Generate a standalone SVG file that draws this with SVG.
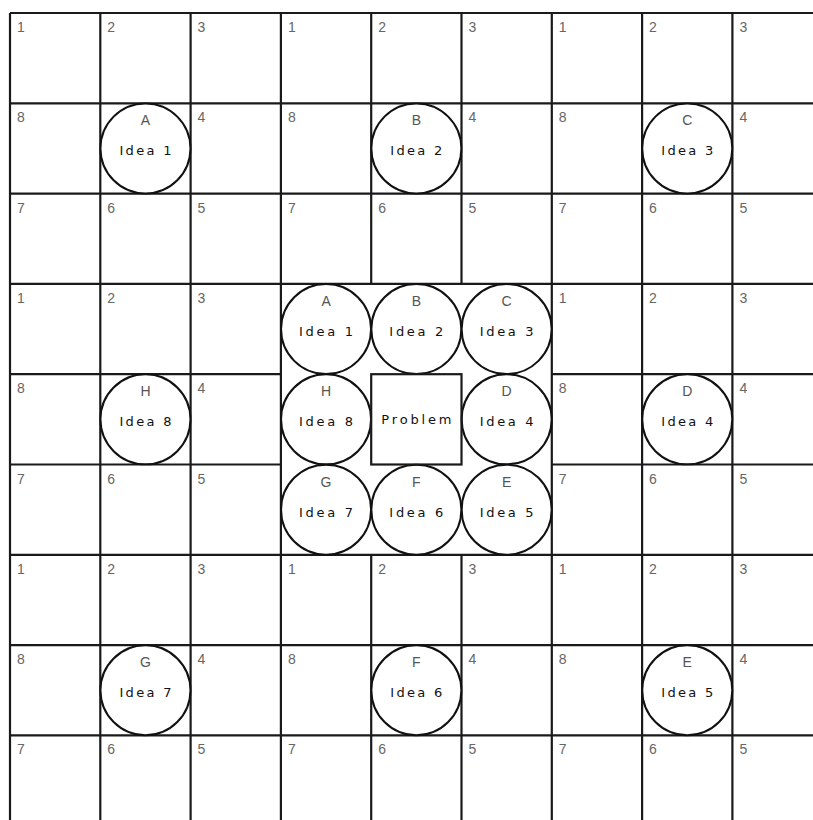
<svg xmlns="http://www.w3.org/2000/svg" width="813" height="820" viewBox="0 0 813 820">
<style>
.g{stroke:#1a1a1a;stroke-width:2.2;fill:none}
.c{stroke:#111;stroke-width:2;fill:#fff}
.n{font-family:"Liberation Sans",Arial,sans-serif;font-size:14px;fill:#666}
.l{font-family:"Liberation Sans",Arial,sans-serif;font-size:14px;fill:#555;text-anchor:middle}
.i{font-family:"DejaVu Sans",sans-serif;font-size:13px;fill:#111;text-anchor:middle}
</style>
<rect width="813" height="820" fill="#fff"/>
<g id="grid" class="g">
<path d="M10 13H813M10 103.3H813M10 193.6H813M10 283.9H813M10 374.2H280.9M551.8 374.2H813M10 464.5H280.9M551.8 464.5H813M10 554.8H813M10 645.1H813M10 735.4H813"/>
<path d="M10 13V820M100.3 13V820M190.6 13V820M280.9 13V820M371.2 13V283.9M371.2 554.8V820M461.5 13V283.9M461.5 554.8V820M551.8 13V820M642.1 13V820M732.4 13V820"/>
</g>
<g id="numbers" class="n">
<text x="17" y="32">1</text><text x="107.3" y="32">2</text><text x="197.6" y="32">3</text>
<text x="287.9" y="32">1</text><text x="378.2" y="32">2</text><text x="468.5" y="32">3</text>
<text x="558.8" y="32">1</text><text x="649.1" y="32">2</text><text x="739.4" y="32">3</text>
<text x="17" y="122.3">8</text><text x="197.6" y="122.3">4</text>
<text x="287.9" y="122.3">8</text><text x="468.5" y="122.3">4</text>
<text x="558.8" y="122.3">8</text><text x="739.4" y="122.3">4</text>
<text x="17" y="212.6">7</text><text x="107.3" y="212.6">6</text><text x="197.6" y="212.6">5</text>
<text x="287.9" y="212.6">7</text><text x="378.2" y="212.6">6</text><text x="468.5" y="212.6">5</text>
<text x="558.8" y="212.6">7</text><text x="649.1" y="212.6">6</text><text x="739.4" y="212.6">5</text>
<text x="17" y="302.9">1</text><text x="107.3" y="302.9">2</text><text x="197.6" y="302.9">3</text>
<text x="558.8" y="302.9">1</text><text x="649.1" y="302.9">2</text><text x="739.4" y="302.9">3</text>
<text x="17" y="393.2">8</text><text x="197.6" y="393.2">4</text>
<text x="558.8" y="393.2">8</text><text x="739.4" y="393.2">4</text>
<text x="17" y="483.5">7</text><text x="107.3" y="483.5">6</text><text x="197.6" y="483.5">5</text>
<text x="558.8" y="483.5">7</text><text x="649.1" y="483.5">6</text><text x="739.4" y="483.5">5</text>
<text x="17" y="573.8">1</text><text x="107.3" y="573.8">2</text><text x="197.6" y="573.8">3</text>
<text x="287.9" y="573.8">1</text><text x="378.2" y="573.8">2</text><text x="468.5" y="573.8">3</text>
<text x="558.8" y="573.8">1</text><text x="649.1" y="573.8">2</text><text x="739.4" y="573.8">3</text>
<text x="17" y="664.1">8</text><text x="197.6" y="664.1">4</text>
<text x="287.9" y="664.1">8</text><text x="468.5" y="664.1">4</text>
<text x="558.8" y="664.1">8</text><text x="739.4" y="664.1">4</text>
<text x="17" y="754.4">7</text><text x="107.3" y="754.4">6</text><text x="197.6" y="754.4">5</text>
<text x="287.9" y="754.4">7</text><text x="378.2" y="754.4">6</text><text x="468.5" y="754.4">5</text>
<text x="558.8" y="754.4">7</text><text x="649.1" y="754.4">6</text><text x="739.4" y="754.4">5</text>
</g>
<g id="outerA"><circle class="c" cx="145.45" cy="148.45" r="45"/><text class="l" x="145.45" y="125.3">A</text><text class="i" x="145.45" y="155.3" textLength="52" lengthAdjust="spacing">Idea 1</text></g>
<g id="outerB"><circle class="c" cx="416.35" cy="148.45" r="45"/><text class="l" x="416.35" y="125.3">B</text><text class="i" x="416.35" y="155.3" textLength="52" lengthAdjust="spacing">Idea 2</text></g>
<g id="outerC"><circle class="c" cx="687.25" cy="148.45" r="45"/><text class="l" x="687.25" y="125.3">C</text><text class="i" x="687.25" y="155.3" textLength="52" lengthAdjust="spacing">Idea 3</text></g>
<g id="outerD"><circle class="c" cx="687.25" cy="419.35" r="45"/><text class="l" x="687.25" y="396.2">D</text><text class="i" x="687.25" y="426.2" textLength="52" lengthAdjust="spacing">Idea 4</text></g>
<g id="outerE"><circle class="c" cx="687.25" cy="690.25" r="45"/><text class="l" x="687.25" y="667.1">E</text><text class="i" x="687.25" y="697.1" textLength="52" lengthAdjust="spacing">Idea 5</text></g>
<g id="outerF"><circle class="c" cx="416.35" cy="690.25" r="45"/><text class="l" x="416.35" y="667.1">F</text><text class="i" x="416.35" y="697.1" textLength="52" lengthAdjust="spacing">Idea 6</text></g>
<g id="outerG"><circle class="c" cx="145.45" cy="690.25" r="45"/><text class="l" x="145.45" y="667.1">G</text><text class="i" x="145.45" y="697.1" textLength="52" lengthAdjust="spacing">Idea 7</text></g>
<g id="outerH"><circle class="c" cx="145.45" cy="419.35" r="45"/><text class="l" x="145.45" y="396.2">H</text><text class="i" x="145.45" y="426.2" textLength="52" lengthAdjust="spacing">Idea 8</text></g>
<g id="centerA"><circle class="c" cx="326.05" cy="329.05" r="45"/><text class="l" x="326.05" y="305.9">A</text><text class="i" x="326.05" y="335.9" textLength="54" lengthAdjust="spacing">Idea 1</text></g>
<g id="centerB"><circle class="c" cx="416.35" cy="329.05" r="45"/><text class="l" x="416.35" y="305.9">B</text><text class="i" x="416.35" y="335.9" textLength="54" lengthAdjust="spacing">Idea 2</text></g>
<g id="centerC"><circle class="c" cx="506.65" cy="329.05" r="45"/><text class="l" x="506.65" y="305.9">C</text><text class="i" x="506.65" y="335.9" textLength="54" lengthAdjust="spacing">Idea 3</text></g>
<g id="centerD"><circle class="c" cx="506.65" cy="419.35" r="45"/><text class="l" x="506.65" y="396.2">D</text><text class="i" x="506.65" y="426.2" textLength="54" lengthAdjust="spacing">Idea 4</text></g>
<g id="centerE"><circle class="c" cx="506.65" cy="509.65" r="45"/><text class="l" x="506.65" y="486.5">E</text><text class="i" x="506.65" y="516.5" textLength="54" lengthAdjust="spacing">Idea 5</text></g>
<g id="centerF"><circle class="c" cx="416.35" cy="509.65" r="45"/><text class="l" x="416.35" y="486.5">F</text><text class="i" x="416.35" y="516.5" textLength="54" lengthAdjust="spacing">Idea 6</text></g>
<g id="centerG"><circle class="c" cx="326.05" cy="509.65" r="45"/><text class="l" x="326.05" y="486.5">G</text><text class="i" x="326.05" y="516.5" textLength="54" lengthAdjust="spacing">Idea 7</text></g>
<g id="centerH"><circle class="c" cx="326.05" cy="419.35" r="45"/><text class="l" x="326.05" y="396.2">H</text><text class="i" x="326.05" y="426.2" textLength="54" lengthAdjust="spacing">Idea 8</text></g>
<g id="problem"><rect class="g" x="371.2" y="374.2" width="90.3" height="90.3" fill="#fff"/><text class="i" x="416.35" y="423.5" textLength="70" lengthAdjust="spacing">Problem</text></g>
</svg>
